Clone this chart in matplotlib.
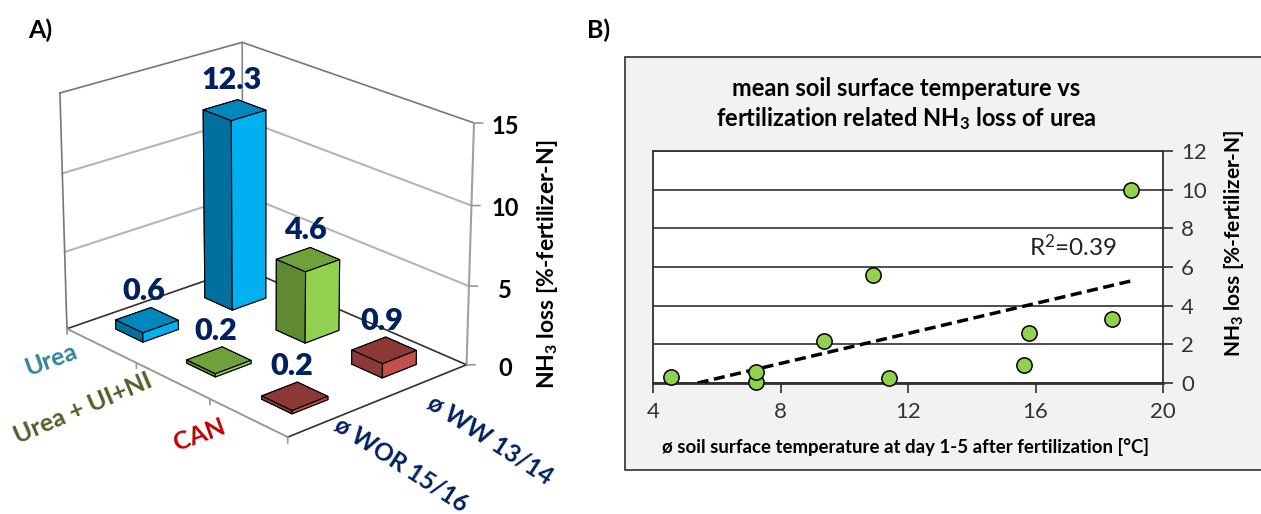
import numpy as np
import matplotlib
matplotlib.use('Agg')
import matplotlib.pyplot as plt
from matplotlib.patches import Rectangle
from mpl_toolkits.mplot3d import proj3d

plt.rcParams['font.family'] = ['Lato', 'DejaVu Sans']
plt.rcParams['mathtext.default'] = 'regular'

# panel A
treatments = ['Urea', 'Urea + UI+NI', 'CAN']
seasons = ['ø WOR 15/16', 'ø WW 13/14']
loss_wor = [0.6, 0.2, 0.2]
loss_ww = [12.3, 4.6, 0.9]
z_ticks = [0, 5, 10, 15]

# panel B
temp = [4.55, 7.23, 7.23, 9.35, 10.9, 11.4, 15.65, 15.8, 18.4, 19.0]
nh3 = [0.3, 0.05, 0.55, 2.15, 5.6, 0.25, 0.95, 2.6, 3.3, 10.0]
trend_x = [5.4, 19.0]
trend_y = [0.0, 5.28]

W, H = 1261, 514
NAVY = '#002060'

fig = plt.figure(figsize=(W / 100, H / 100), dpi=100)


def px(x, y):
    return x / W, 1 - y / H


# --- A) 3D bars ---
ax = fig.add_axes([7 / W, 28 / H, 500 / W, 500 / H], projection='3d', proj_type='persp', focal_length=1.0)
ax.computed_zorder = False
ax.view_init(elev=22, azim=-42)
ax.set_xlim(0, 3)
ax.set_ylim(0, 2)
ax.set_zlim(0, 15)
ax.set_box_aspect((328, 236, 250), zoom=0.95)
ax.set_axis_off()
ax.patch.set_alpha(0)

# walls
ax.plot([0, 0, 3], [0, 2, 2], [15, 15, 15], color='#777777', lw=1.2, zorder=1)
for v in z_ticks[1:3]:
    ax.plot([0, 0, 3], [0, 2, 2], [v, v, v], color='#b5b5b5', lw=1.5, zorder=1)
ax.plot([0, 0], [0, 0], [0, 15], color='#777777', lw=1.2, zorder=1)
ax.plot([0, 0], [2, 2], [0, 15], color='#888888', lw=1.2, zorder=1)
ax.plot([3, 3], [2, 2], [0, 15], color='#a0a0a0', lw=1.5, zorder=1)
ax.plot([0, 0, 3], [0, 2, 2], [0, 0, 0], color='#303030', lw=1.2, zorder=1)
ax.plot([0, 3], [0, 0], [0, 0], color='#999999', lw=1.4, zorder=1)
ax.plot([3, 3], [0, 2], [0, 0], color='#303030', lw=1.2, zorder=1)
for i in range(4):
    ax.plot([i, i], [0, 0], [0, -0.35], color='#999999', lw=1.2, zorder=1)
for v in z_ticks:
    ax.plot([3, 3.05], [2, 2.05], [v, v], color='#999999', lw=1.2, zorder=1)

# side, side, top faces per treatment
face_cols = [('#00709e', '#00b0f0', '#0087bd'),
             ('#5f8a32', '#92d050', '#6fa03c'),
             ('#8b3a38', '#c0504d', '#8c3836')]
w = 0.39
order = 2
M = ax.get_proj()
for j, vals in [(1, loss_ww), (0, loss_wor)]:
    for i, v in enumerate(vals):
        dark, bright, top = face_cols[i]
        # bottom, top, -y, +y, -x, +x
        cols = [dark, top, dark, dark, dark, bright]
        ax.bar3d(i + 0.5 - w / 2, j + 0.5 - w / 2, 0, w, w, v, color=cols, edgecolor='black',
                 linewidth=0.8, shade=False, zorder=order)
        order += 1
        lx, ly, _ = proj3d.proj_transform(i + 0.5, j + 0.5, v + 1.0, M)
        ax.annotate(f'{v:.1f}', xy=(lx, ly), xytext=(-2, 0), textcoords='offset points', color=NAVY,
                    fontsize=22, fontweight='heavy', ha='center', va='bottom', zorder=30)

# tick labels panel A
for v, yy in zip(z_ticks, [369, 290, 209, 127]):
    fig.text(*px(505, yy), str(v), fontsize=17, fontweight='bold', ha='center', va='center')
fig.text(*px(548, 264), 'NH$_3$ loss [%-fertilizer-N]', rotation=90, fontsize=16.5, fontweight='bold',
         ha='center', va='center')
cat_cols = ['#31849b', '#4f6228', '#c00000']
cat_pos = [(51, 360, 20), (83, 408, 23), (199, 435, 20)]
for name, c, (xx, yy, rot) in zip(treatments, cat_cols, cat_pos):
    fig.text(*px(xx, yy), name, color=c, fontsize=18, fontweight='bold', rotation=rot,
             rotation_mode='anchor', ha='center', va='center')
for name, (xx, yy) in zip(seasons, [(401, 465), (490, 440)]):
    fig.text(*px(xx, yy), name, color=NAVY, fontsize=17.5, fontweight='bold', rotation=-33,
             rotation_mode='anchor', ha='center', va='center')

fig.text(*px(40, 30), 'A)', fontsize=18, fontweight='bold', ha='center', va='center')
fig.text(*px(599, 30), 'B)', fontsize=18, fontweight='bold', ha='center', va='center')

# --- B) scatter ---
# panel runs off the right edge of the picture
fig.add_artist(Rectangle(px(625, 470), 700 / W, 413 / H, transform=fig.transFigure,
                         facecolor='#f2f2f2', edgecolor='#404040', lw=1.3, zorder=-1))

bx = fig.add_axes([653 / W, 1 - 383 / H, 510 / W, 232 / H])
bx.set_xlim(4, 20)
bx.set_ylim(0, 12)
bx.set_xticks([4, 8, 12, 16, 20])
bx.set_yticks(range(0, 13, 2))
bx.yaxis.tick_right()
bx.grid(axis='y', color='#303030', lw=1.2)
bx.set_axisbelow(True)
for s in bx.spines.values():
    s.set_color('#303030')
    s.set_linewidth(1.3)
bx.spines['bottom'].set_linewidth(2)
bx.tick_params(axis='both', length=7, width=1.2, color='#303030', labelsize=16, labelcolor='#333333')
bx.tick_params(axis='x', pad=7)
bx.tick_params(axis='y', pad=6)
bx.plot(trend_x, trend_y, color='black', lw=2.5, ls=(0, (3.2, 1.6)), zorder=3)
bx.plot(temp, nh3, ls='none', marker='o', ms=11, mfc='#92d050', mec='black', mew=1.1, clip_on=False, zorder=4)
bx.text(17.18, 7.03, 'R$^2$=0.39', fontsize=17.5, color='#222222', ha='center', va='center')

fig.text(*px(1234, 243), 'NH$_3$ loss [%-fertilizer-N]', rotation=90, fontsize=15, fontweight='bold',
         ha='center', va='center')
fig.text(*px(906, 88), 'mean soil surface temperature vs', fontsize=17, fontweight='bold', ha='center', va='center')
fig.text(*px(906, 119), 'fertilization related NH$_3$ loss of urea', fontsize=17, fontweight='bold', ha='center',
         va='center')
fig.text(*px(906, 447), 'ø soil surface temperature at day 1-5 after fertilization [°C]', fontsize=13.4,
         fontweight='bold', ha='center', va='center')

fig.savefig('out.png', dpi=100)
